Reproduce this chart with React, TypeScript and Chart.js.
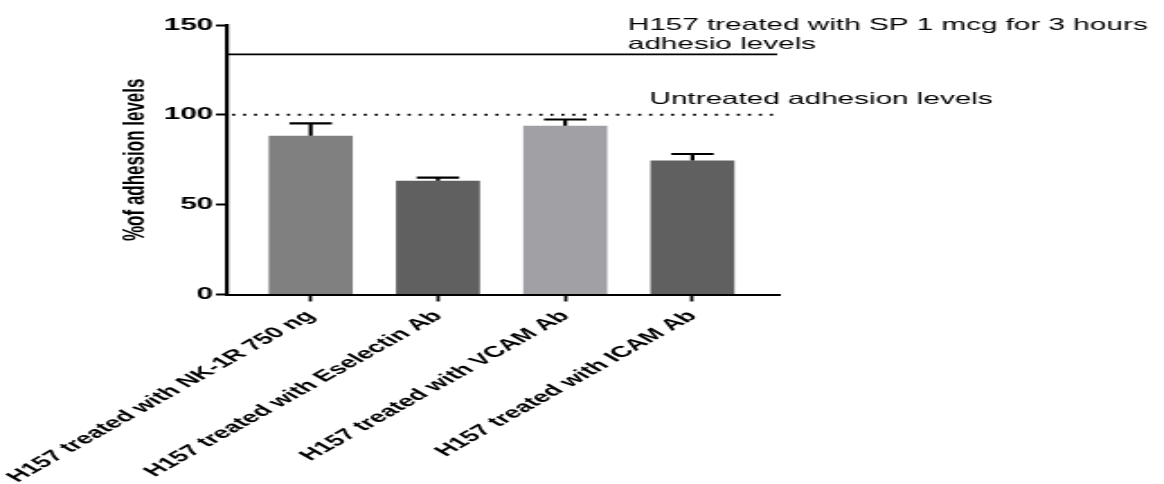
import React, { useEffect, useRef } from 'react';
import { Chart, registerables } from 'chart.js';

Chart.register(...registerables);

// ---- data ----
const categories = [
  'H157 treated with NK-1R 750 ng',
  'H157 treated with Eselectin Ab',
  'H157 treated with VCAM Ab',
  'H157 treated with ICAM Ab',
];
const adhesionValues = [88.3, 63.3, 93.9, 74.6];
const errorValues = [6.9, 1.7, 3.5, 3.6];
const barColors = ['#808080', '#606060', '#a1a0a4', '#606060'];
const yTickValues = [0, 50, 100, 150];
const spTreatedLevel = 133.7;
const untreatedLevel = 100;
const spLabelLines = ['H157 treated with SP 1 mcg for 3 hours', 'adhesio levels'];
const untreatedLabel = 'Untreated adhesion levels';
const yAxisTitle = '%of adhesion levels';

// ---- layout ----
const CANVAS_W = 647;
const CANVAS_H = 484;
const STRETCH = 1164 / CANVAS_W;
const FONT = '"Liberation Sans", Arial, Helvetica, sans-serif';

const annotationPlugin = {
  id: 'annotations',
  afterDatasetsDraw(chart: any) {
    const { ctx, chartArea, scales } = chart;
    const y = scales.y;
    const meta = chart.getDatasetMeta(0);
    ctx.save();
    ctx.strokeStyle = '#000';
    // error bars
    ctx.lineWidth = 2.2;
    meta.data.forEach((el: any, i: number) => {
      const top = y.getPixelForValue(adhesionValues[i] + errorValues[i]);
      const half = 11.8;
      ctx.beginPath();
      ctx.moveTo(el.x, el.y);
      ctx.lineTo(el.x, top);
      ctx.moveTo(el.x - half, top);
      ctx.lineTo(el.x + half, top);
      ctx.stroke();
    });
    // SP treated reference line (solid)
    const ySp = y.getPixelForValue(spTreatedLevel);
    ctx.lineWidth = 1.8;
    ctx.beginPath();
    ctx.moveTo(chartArea.left, ySp);
    ctx.lineTo(chartArea.right - 1, ySp);
    ctx.stroke();
    // untreated reference line (dotted)
    const yUn = y.getPixelForValue(untreatedLevel);
    ctx.lineWidth = 2;
    ctx.setLineDash([1.7, 4.4]);
    ctx.beginPath();
    ctx.moveTo(chartArea.left + 3, yUn);
    ctx.lineTo(chartArea.right - 1, yUn);
    ctx.stroke();
    ctx.setLineDash([]);
    // labels
    ctx.fillStyle = '#000';
    ctx.font = `16.5px ${FONT}`;
    ctx.textAlign = 'left';
    ctx.textBaseline = 'alphabetic';
    ctx.fillText(spLabelLines[0], chartArea.right - 84, ySp - 24.3);
    ctx.fillText(spLabelLines[1], chartArea.right - 84, ySp - 5.3);
    ctx.fillText(untreatedLabel, chartArea.right - 72, yUn - 11);
    ctx.restore();
  },
};

export default function App() {
  const canvasRef = useRef<HTMLCanvasElement | null>(null);

  useEffect(() => {
    if (!canvasRef.current) return;
    document.body.style.overflow = 'hidden';
    const chart = new Chart(canvasRef.current, {
      type: 'bar',
      data: {
        labels: categories,
        datasets: [
          {
            data: adhesionValues.map((v, i) => ({ x: i + 1, y: v })) as any,
            backgroundColor: barColors,
            borderWidth: 0,
            barPercentage: 0.66,
            categoryPercentage: 1,
          },
        ],
      },
      options: {
        responsive: false,
        maintainAspectRatio: false,
        animation: false,
        devicePixelRatio: 1,
        layout: { padding: { top: 25, right: 214, left: 0, bottom: 0 } },
        plugins: { legend: { display: false }, tooltip: { enabled: false } },
        scales: {
          x: {
            type: 'linear',
            min: 0.34,
            max: 4.68,
            bounds: 'data',
            offset: false,
            afterBuildTicks: (s: any) => {
              s.ticks = categories.map((_, i) => ({ value: i + 1 }));
            },
            afterFit: (s: any) => {
              s.height = CANVAS_H - 294.5;
              s.paddingLeft = 0;
              s.paddingRight = 0;
            },
            grid: {
              offset: false,
              drawOnChartArea: false,
              drawTicks: true,
              tickLength: 7,
              tickWidth: 1.8,
              tickColor: '#000',
            },
            border: { display: true, color: '#000', width: 2 },
            ticks: {
              autoSkip: false,
              maxRotation: 45,
              minRotation: 45,
              padding: 5.5,
              color: '#000',
              font: { family: FONT, size: 15.6, weight: 'bold' },
              callback: (_v: any, i: number) => categories[i],
            },
          } as any,
          y: {
            min: 0,
            max: 150,
            afterBuildTicks: (s: any) => {
              s.ticks = yTickValues.map((v) => ({ value: v }));
            },
            afterFit: (s: any) => {
              s.width = 126;
            },
            grid: {
              offset: false,
              drawOnChartArea: false,
              drawTicks: true,
              tickLength: 6,
              tickWidth: 2,
              tickColor: '#000',
            },
            border: { display: true, color: '#000', width: 2.2 },
            ticks: {
              padding: 1.5,
              color: '#000',
              font: { family: FONT, size: 16.5, weight: 'bold' },
            },
            title: {
              display: true,
              text: yAxisTitle,
              color: '#000',
              font: { family: FONT, size: 17, weight: 'bold' },
              padding: { top: 65.5, bottom: 0 },
            },
          } as any,
        },
      },
      plugins: [annotationPlugin],
    });
    return () => chart.destroy();
  }, []);

  return (
    <div
      style={{
        position: 'absolute',
        left: 0,
        top: 0,
        width: CANVAS_W,
        height: CANVAS_H,
        transform: `scaleX(${STRETCH})`,
        transformOrigin: '0 0',
      }}
    >
      <canvas ref={canvasRef} width={CANVAS_W} height={CANVAS_H} />
    </div>
  );
}
